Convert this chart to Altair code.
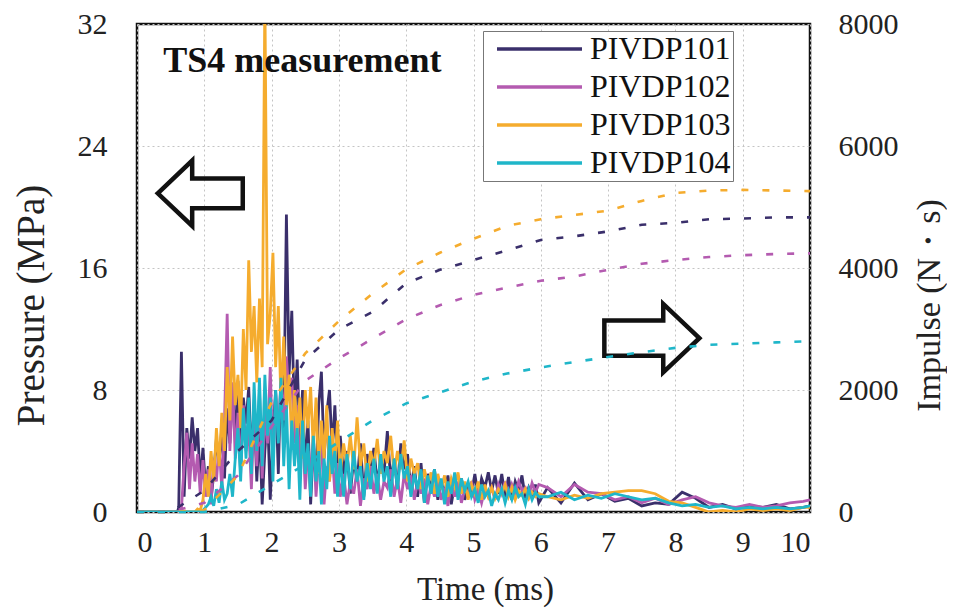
import altair as alt
import pandas as pd

SERIES = ["PIVDP101", "PIVDP102", "PIVDP103", "PIVDP104"]
COLORS = ["#3a2f6b", "#b45bb0", "#f5ac2e", "#1fb6c9"]

# time axis of the pressure traces (ms)
TIME_P = [
    0.00, 0.60,
    0.62, 0.66, 0.70, 0.74, 0.78, 0.82, 0.86, 0.90, 0.94, 0.98,
    1.02, 1.06, 1.10, 1.14, 1.18, 1.22, 1.26, 1.30, 1.34, 1.38,
    1.42, 1.46, 1.50, 1.54, 1.58, 1.62, 1.66, 1.70, 1.74, 1.78,
    1.82, 1.86, 1.90, 1.94, 1.98, 2.02, 2.06, 2.10, 2.14, 2.18,
    2.22, 2.26, 2.30, 2.34, 2.38, 2.42, 2.46, 2.50, 2.54, 2.58,
    2.62, 2.66, 2.70, 2.74, 2.78, 2.82, 2.86, 2.90, 2.94, 2.98,
    3.02, 3.07, 3.12, 3.17, 3.22, 3.27, 3.32, 3.37, 3.42, 3.47,
    3.52, 3.57, 3.62, 3.67, 3.72, 3.77, 3.82, 3.87, 3.92, 3.97,
    4.02, 4.07, 4.12, 4.17, 4.22, 4.27, 4.32, 4.37, 4.42, 4.47,
    4.52, 4.57, 4.62, 4.67, 4.72, 4.77, 4.82, 4.87, 4.92, 4.97,
    5.02, 5.07, 5.12, 5.17, 5.22, 5.27, 5.32, 5.37, 5.42, 5.47,
    5.52, 5.57, 5.62, 5.67, 5.72, 5.77, 5.82, 5.87, 5.92, 5.97,
    6.1, 6.3, 6.5, 6.7, 6.9, 7.1, 7.3, 7.5, 7.7, 7.9,
    8.1, 8.3, 8.5, 8.7, 8.9, 9.1, 9.3, 9.5, 9.7, 9.9,
    10.0,
]

# pressure (MPa)
P_101 = [
    0.0, 0.0,
    0.3, 10.5, 1.0, 5.5, 3.5, 6.2, 4.0, 5.5, 2.0, 4.2,
    1.5, 3.0, 0.8, 2.5, 4.8, 3.2, 5.5, 2.2, 6.8, 4.5,
    7.8, 5.0, 8.6, 4.2, 7.5, 5.8, 8.2, 3.5, 7.0, 2.0,
    5.5, 0.5, 4.0, 6.5, 0.8, 5.0, 8.0, 2.5, 9.5, 5.5,
    19.5, 9.0, 13.2, 6.0, 10.0, 4.5, 8.0, 2.5, 6.0, 0.5,
    4.5, 2.0, 7.0, 9.2, 3.5, 6.5, 8.0, 4.0, 7.0, 3.0,
    5.0, 2.5, 4.0, 1.2, 3.5, 2.0, 4.5, 1.0, 3.8, 2.5,
    4.2, 1.8, 3.5, 2.5, 5.3, 2.0, 3.5, 1.5, 4.5, 2.8,
    3.8, 1.5, 3.0, 1.0, 3.2, 0.6, 2.5, 1.5, 2.8, 0.8,
    2.0, 1.2, 2.4, 0.5, 1.8, 1.0, 2.2, 0.8, 1.6, 1.2,
    2.5, 1.0, 2.2, 1.6, 2.6, 1.4, 2.4, 1.2, 2.5, 1.0,
    2.3, 0.8, 2.0, 1.4, 2.4, 0.9, 1.6, 1.0, 1.8, 0.6,
    1.6, 0.6, 1.9, 0.8, 1.2, 0.7, 0.9, 0.4, 0.6, 0.5,
    1.3, 0.9, 0.3, 0.5, 0.2, 0.4, 0.3, 0.5, 0.2, 0.3,
    0.4,
]
P_102 = [
    0.0, 0.0,
    0.0, 0.2, 3.0, 5.2, 1.5, 4.5, 2.0, 3.8, 1.2, 3.4,
    1.0, 2.8, 0.5, 3.5, 2.0, 4.5, 1.5, 6.0, 13.0, 4.0,
    8.5, 3.5, 6.5, 2.5, 7.0, 4.0, 5.5, 1.5, 6.8, 3.0,
    8.0, 2.2, 6.5, 4.5, 9.5, 3.0, 7.8, 5.0, 8.5, 6.0,
    10.2, 7.5, 8.8, 4.5, 7.0, 3.0, 5.5, 1.5, 4.0, 2.5,
    5.0, 1.0, 3.5, 4.8, 0.5, 3.0, 2.0, 4.0, 1.2, 3.2,
    1.0, 2.5, 0.5, 2.0, 1.2, 2.8, 0.4, 2.2, 1.5, 3.0,
    1.2, 2.5, 0.8, 2.0, 1.6, 2.8, 1.0, 2.2, 0.6, 2.5,
    1.5, 2.4, 0.8, 2.0, 1.2, 2.2, 0.5, 1.8, 1.0, 2.0,
    0.8, 1.6, 0.4, 1.8, 1.0, 2.0, 0.6, 1.5, 1.2, 2.0,
    0.8, 1.4, 0.6, 1.5, 1.0, 1.6, 0.8, 1.8, 1.2, 2.0,
    1.0, 1.8, 1.2, 2.0, 1.4, 1.6, 1.0, 1.9, 1.3, 1.8,
    1.6, 1.0, 1.8, 1.3, 1.2, 0.8, 1.0, 0.6, 0.9, 0.5,
    0.8, 1.0, 0.6, 0.4, 0.3, 0.5, 0.3, 0.4, 0.6, 0.7,
    0.8,
]
P_103 = [
    0.0, 0.0,
    0.0, 0.0, 0.0, 0.0, 0.0, 0.0, 0.0, 0.2, 0.1, 0.8,
    2.5, 1.0, 4.0, 2.0, 5.5, 3.0, 6.5, 4.0, 9.5, 6.0,
    11.5, 7.0, 9.0, 5.5, 12.0, 8.0, 16.5, 10.5, 13.5, 8.5,
    14.0, 9.5, 34.0, 11.0, 13.0, 17.0, 9.5, 13.5, 7.0, 11.5,
    6.5, 9.0, 4.5, 8.0, 5.0, 7.5, 3.5, 8.0, 5.5, 8.2,
    4.0, 7.5, 2.5, 6.0, 3.5, 7.0, 2.0, 5.5, 3.0, 6.0,
    2.5, 4.5, 3.0, 5.0, 2.8, 6.2, 3.0, 4.5, 2.0, 4.0,
    3.0, 4.8, 2.5, 4.0, 3.2, 5.0, 2.5, 4.0, 2.8, 4.7,
    2.0, 3.5, 2.5, 3.2, 1.5, 2.8, 1.8, 2.6, 1.2, 2.5,
    1.5, 2.4, 1.0, 2.2, 1.6, 2.6, 1.2, 2.0, 0.8, 1.8,
    1.2, 2.0, 0.8, 1.8, 1.0, 1.6, 0.9, 1.5, 1.2, 1.8,
    1.0, 1.6, 0.8, 1.4, 1.1, 1.5, 0.9, 1.3, 1.0, 1.2,
    1.0, 0.8, 1.1, 0.9, 1.2, 1.3, 1.4, 1.4, 1.2, 0.7,
    0.6, 0.3, 0.0, 0.1, 0.0, 0.2, 0.1, 0.2, 0.1, 0.3,
    0.3,
]
P_104 = [
    0.0, 0.0,
    0.0, 0.0, 0.0, 0.0, 0.0, 0.0, 0.0, 0.0, 0.0, 0.1,
    0.3, 0.5, 1.0, 0.4, 1.5, 0.6, 2.0, 0.8, 1.2, 2.5,
    1.0, 3.5, 5.5, 2.0, 6.8, 3.5, 7.5, 2.5, 8.5, 4.0,
    8.8, 3.0, 9.0, 5.0, 7.5, 2.0, 8.0, 4.5, 8.8, 3.0,
    7.0, 1.5, 6.0, 3.0, 5.5, 0.8, 6.0, 2.5, 4.5, 1.0,
    5.0, 2.0, 4.0, 0.5, 3.5, 1.5, 5.0, 2.5, 4.0, 1.0,
    3.5, 1.0, 3.8, 1.5, 4.0, 2.0, 3.0, 0.8, 3.2, 1.5,
    3.5, 1.2, 3.8, 2.0, 3.0, 1.0, 3.5, 1.5, 3.8, 2.2,
    3.0, 1.0, 2.5, 1.5, 2.8, 0.6, 2.4, 1.2, 2.8, 1.0,
    2.2, 0.5, 2.0, 1.2, 2.6, 0.8, 2.2, 1.4, 2.0, 1.0,
    1.5, 0.6, 1.8, 1.0, 1.4, 0.4, 1.2, 0.8, 1.5, 0.6,
    1.4, 0.8, 1.6, 1.0, 1.2, 0.5, 1.5, 0.8, 1.3, 1.0,
    1.0, 1.3, 0.8, 1.1, 0.9, 1.2, 1.0, 0.8, 0.9, 0.6,
    0.4, 0.5, 0.3, 0.4, 0.2, 0.3, 0.2, 0.3, 0.2, 0.3,
    0.4,
]

# impulse (N·s)
TIME_I = [0.0, 0.5, 1.0, 1.5, 2.0, 2.5, 3.0, 3.5, 4.0, 4.5, 5.0,
          5.5, 6.0, 6.5, 7.0, 7.5, 8.0, 8.5, 9.0, 9.5, 10.0]
I_101 = [0, 0, 350, 1000, 1500, 2500, 2990, 3280, 3750, 3970, 4130,
         4290, 4460, 4520, 4600, 4710, 4740, 4800, 4810, 4830, 4830]
I_102 = [0, 0, 150, 600, 1400, 2150, 2520, 2840, 3160, 3390, 3560,
         3680, 3790, 3860, 3970, 4070, 4130, 4180, 4210, 4230, 4240]
I_103 = [0, 0, 30, 600, 1800, 2600, 3130, 3580, 3980, 4250, 4480,
         4690, 4800, 4870, 4940, 5100, 5230, 5270, 5280, 5270, 5260]
I_104 = [0, 0, 0, 120, 450, 780, 1150, 1500, 1780, 1960, 2140,
         2270, 2370, 2460, 2540, 2620, 2690, 2740, 2760, 2780, 2800]

# annotations
NOTE_TEXT = ["TS4 measurement"]
NOTE_T = [0.39]
NOTE_P = [29.6]
ARROW_LEFT_T = [0.94]
ARROW_LEFT_P = [20.9]
ARROW_RIGHT_T = [7.65]
ARROW_RIGHT_P = [11.4]

FONT = "Liberation Serif"

p_rows = []
for name, vals in zip(SERIES, [P_101, P_102, P_103, P_104]):
    for t, v in zip(TIME_P, vals):
        p_rows.append({"series": name, "t": t, "p": v})
pdf = pd.DataFrame(p_rows)

i_rows = []
for name, vals in zip(SERIES, [I_101, I_102, I_103, I_104]):
    for t, v in zip(TIME_I, vals):
        i_rows.append({"series": name, "t": t, "imp": v})
idf = pd.DataFrame(i_rows)

xscale = alt.Scale(domain=[0, 10], nice=False)
yscale = alt.Scale(domain=[0, 32], nice=False)
cscale = alt.Scale(domain=SERIES, range=COLORS)

x_axis = alt.Axis(
    values=list(range(11)), format="d", title="Time (ms)",
    labelPadding=15, titleX=348, titleY=77, titleBaseline="middle",
    titleAngle=0, titleFontSize=33, grid=True)
y_axis = alt.Axis(
    values=[0, 8, 16, 24, 32], format="d", title="Pressure (MPa)",
    labelPadding=30, titleX=-106, titleY=281, titleAngle=270,
    titleBaseline="middle", titleFontSize=39, grid=True)

pressure = alt.Chart(pdf).mark_line(strokeWidth=2.8, clip=True).encode(
    x=alt.X("t:Q", scale=xscale, axis=x_axis),
    y=alt.Y("p:Q", scale=yscale, axis=y_axis),
    color=alt.Color("series:N", scale=cscale, sort=SERIES, legend=alt.Legend(
        title=None, orient="none", legendX=346, legendY=7,
        symbolType="stroke", symbolSize=7225, symbolStrokeWidth=3.5,
        symbolDash=[400, 0], symbolOffset=10,
        labelFontSize=32, labelFont=FONT, labelColor="#111", labelOffset=6,
        fillColor="white", strokeColor="#777", padding=2, rowPadding=6,
        clipHeight=32)),
    order=alt.Order("t:Q"),
)

note = alt.Chart(pd.DataFrame({"text": NOTE_TEXT, "t": NOTE_T, "p": NOTE_P})).mark_text(
    align="left", baseline="middle", font=FONT, fontSize=36, fontWeight="bold",
    color="#111").encode(
    x=alt.X("t:Q", scale=xscale, axis=x_axis),
    y=alt.Y("p:Q", scale=yscale, axis=y_axis),
    text="text:N",
)

left_path = "M -1 0 L -0.19 -0.77 L -0.19 -0.35 L 1 -0.35 L 1 0.35 L -0.19 0.35 L -0.19 0.77 Z"
right_path = "M 1 0 L 0.24 -0.72 L 0.24 -0.37 L -1 -0.37 L -1 0.37 L 0.24 0.37 L 0.24 0.72 Z"

arrow_left = alt.Chart(pd.DataFrame({"t": ARROW_LEFT_T, "p": ARROW_LEFT_P})).mark_point(
    shape=left_path, size=7225, filled=False, stroke="#111", strokeWidth=4.5,
    opacity=1, strokeJoin="miter").encode(
    x=alt.X("t:Q", scale=xscale, axis=x_axis),
    y=alt.Y("p:Q", scale=yscale, axis=y_axis),
)
arrow_right = alt.Chart(pd.DataFrame({"t": ARROW_RIGHT_T, "p": ARROW_RIGHT_P})).mark_point(
    shape=right_path, size=9025, filled=False, stroke="#111", strokeWidth=4.5,
    opacity=1, strokeJoin="miter").encode(
    x=alt.X("t:Q", scale=xscale, axis=x_axis),
    y=alt.Y("p:Q", scale=yscale, axis=y_axis),
)

left_layer = alt.layer(pressure, arrow_left, arrow_right, note)

impulse = alt.Chart(idf).mark_line(strokeWidth=2.6, strokeDash=[7, 14]).encode(
    x=alt.X("t:Q", scale=xscale, axis=x_axis),
    y=alt.Y("imp:Q", scale=alt.Scale(domain=[0, 8000], nice=False), axis=alt.Axis(
        orient="right", values=[0, 2000, 4000, 6000, 8000], format="d",
        title="Impulse (N・s)", labelPadding=28, titleX=119, titleY=281,
        titleAngle=270, titleBaseline="middle", titleFontSize=34, grid=False)),
    color=alt.Color("series:N", scale=cscale, sort=SERIES, legend=None),
    order=alt.Order("t:Q"),
)

chart = alt.layer(left_layer, impulse).resolve_scale(y="independent").properties(
    width=673, height=488,
    padding={"left": 129, "top": 16, "right": 137, "bottom": 96},
    autosize=alt.AutoSizeParams(type="none"),
    background="white",
).configure_view(
    stroke="#111", strokeWidth=2.5,
).configure_axis(
    labelFont=FONT, titleFont=FONT, labelFontSize=30, titleFontSize=33,
    labelColor="#222", titleColor="#222", titleFontWeight="normal",
    domain=False, ticks=False,
    gridColor="#c4c4c4", gridDash=[2, 3], gridWidth=1,
)

chart.save("out.html", embed_options={"renderer": "svg", "actions": False})
